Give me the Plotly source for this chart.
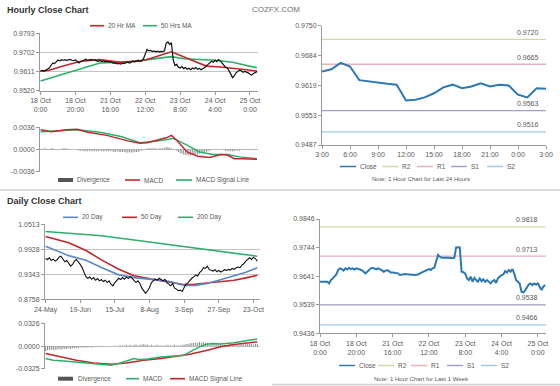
import plotly.graph_objects as go

# ---------------- DATA ----------------
hourly_tick_labels = ["18 Oct<br>0:00", "18 Oct<br>20:00", "21 Oct<br>16:00", "22 Oct<br>12:00",
                      "23 Oct<br>8:00", "24 Oct<br>4:00", "25 Oct<br>0:00"]
hourly_tick_pos = [0, 20, 40, 60, 80, 100, 120]

hourly_close = [
    0.9613, 0.9617, 0.9612, 0.9618, 0.9621, 0.9628, 0.9640, 0.9652, 0.9649, 0.9660,
    0.9666, 0.9662, 0.9667, 0.9665, 0.9668, 0.9664, 0.9666, 0.9669, 0.9665, 0.9663,
    0.9666, 0.9660, 0.9652, 0.9658, 0.9663, 0.9668, 0.9670, 0.9664, 0.9667, 0.9669,
    0.9665, 0.9668, 0.9662, 0.9660, 0.9664, 0.9658, 0.9661, 0.9657, 0.9660, 0.9656,
    0.9658, 0.9654, 0.9650, 0.9652, 0.9648, 0.9650, 0.9647, 0.9651, 0.9649, 0.9653,
    0.9656, 0.9652, 0.9658, 0.9660, 0.9657, 0.9662, 0.9665, 0.9660, 0.9663, 0.9672,
    0.9700, 0.9716, 0.9710, 0.9712, 0.9706, 0.9709, 0.9705, 0.9708, 0.9704, 0.9707,
    0.9706, 0.9710, 0.9745, 0.9752, 0.9740, 0.9748, 0.9668, 0.9640, 0.9645, 0.9632,
    0.9628, 0.9635, 0.9625, 0.9630, 0.9622, 0.9627, 0.9620, 0.9628, 0.9624, 0.9630,
    0.9622, 0.9626, 0.9620, 0.9624, 0.9630, 0.9638, 0.9645, 0.9652, 0.9660, 0.9655,
    0.9665, 0.9658, 0.9668, 0.9662, 0.9650, 0.9640, 0.9632, 0.9628, 0.9615, 0.9600,
    0.9582, 0.9590, 0.9605, 0.9612, 0.9618, 0.9615, 0.9608, 0.9612, 0.9610, 0.9605,
    0.9598, 0.9594, 0.9602, 0.9606, 0.9610]
hourly_ma20_idx = [0, 5, 12, 23, 34, 46, 57, 61, 75, 95, 103, 110, 118, 124]
hourly_ma20 = [0.9613, 0.9617, 0.9635, 0.9660, 0.9668, 0.9655, 0.9661, 0.9668, 0.9705,
               0.9637, 0.9633, 0.9628, 0.9620, 0.9613]
hourly_ma50_idx = [0, 34, 46, 57, 75, 82, 100, 110, 124]
hourly_ma50 = [0.9566, 0.9652, 0.9656, 0.9663, 0.9682, 0.9672, 0.9665, 0.9655, 0.9629]
hourly_price_ticks = [0.9520, 0.9611, 0.9702, 0.9793]

hourly_macd_idx = [0, 6, 15, 21, 27, 38, 50, 57, 61, 67, 72, 75, 78, 84, 90, 97, 103, 107, 111, 116, 124]
hourly_macd = [0.0032, 0.0029, 0.0032, 0.0033, 0.0028, 0.0023, 0.0014, 0.0010, 0.0011, 0.0016, 0.0019,
               0.0023, 0.0015, -0.0004, -0.0011, -0.0013, -0.0008, -0.0009, -0.0015, -0.0015, -0.0016]
hourly_signal_idx = [0, 11, 21, 34, 46, 57, 67, 76, 84, 91, 99, 107, 114, 124]
hourly_signal = [0.0029, 0.0031, 0.0032, 0.0028, 0.0021, 0.0011, 0.0014, 0.0018, 0.0007, -0.0004,
                 -0.0008, -0.0008, -0.0012, -0.0015]
hourly_divergence = [
    0.0001, 0.0001, 0.0002, 0.0002, 0.0001, 0.0001, 0.0002, 0.0002, 0.0001, 0.0001,
    0.0001, 0.0001, 0.0001, 0.0002, 0.0002, 0.0002, 0.0001, 0.0001, 0.0000, 0.0000,
    -0.0001, -0.0001, -0.0002, -0.0002, -0.0002, -0.0003, -0.0003, -0.0003, -0.0002, -0.0003,
    -0.0003, -0.0003, -0.0003, -0.0003, -0.0002, -0.0003, -0.0003, -0.0003, -0.0003, -0.0003,
    -0.0003, -0.0003, -0.0004, -0.0004, -0.0003, -0.0004, -0.0004, -0.0004, -0.0004, -0.0005,
    -0.0005, -0.0005, -0.0005, -0.0005, -0.0004, -0.0004, -0.0004, -0.0003, -0.0002, -0.0001,
    0.0001, 0.0002, 0.0002, 0.0002, 0.0002, 0.0002, 0.0002, 0.0001, 0.0002, 0.0002,
    0.0002, 0.0003, 0.0004, 0.0004, 0.0003, 0.0002, 0.0001, -0.0001, -0.0002, -0.0004,
    -0.0006, -0.0007, -0.0008, -0.0009, -0.0009, -0.0010, -0.0010, -0.0009, -0.0009, -0.0008,
    -0.0008, -0.0007, -0.0006, -0.0005, -0.0005, -0.0004, -0.0003, -0.0002, -0.0001, 0.0000,
    0.0001, 0.0001, 0.0001, 0.0000, 0.0000, -0.0001, -0.0002, -0.0003, -0.0003, -0.0003,
    -0.0003, -0.0003, -0.0002, -0.0002, -0.0002, -0.0001, -0.0001, -0.0001, -0.0001, -0.0001,
    -0.0001, -0.0001, -0.0001, -0.0001, -0.0001]
hourly_macd_ticks = [-0.0036, 0.0000, 0.0036]

daily_tick_labels = ["24-May", "19-Jun", "15-Jul", "8-Aug", "3-Sep", "27-Sep", "23-Oct"]
daily_tick_pos = [0, 18, 36, 54, 72, 90, 108]
daily_close = [
    0.9712, 0.9689, 0.9728, 0.9666, 0.9697, 0.9651, 0.9682, 0.9743, 0.9766, 0.9689,
    0.9635, 0.9666, 0.9589, 0.9535, 0.9574, 0.9651, 0.9689, 0.9635, 0.9574, 0.9497,
    0.9381, 0.9281, 0.9250, 0.9281, 0.9227, 0.9266, 0.9204, 0.9243, 0.9189, 0.9220,
    0.9173, 0.9204, 0.9150, 0.9189, 0.9112, 0.9073, 0.9150, 0.9204, 0.9250, 0.9220,
    0.9266, 0.9227, 0.9281, 0.9243, 0.9297, 0.9250, 0.9204, 0.9150, 0.9189, 0.9127,
    0.9019, 0.8942, 0.8896, 0.8958, 0.9035, 0.9150, 0.9204, 0.9235, 0.9204, 0.9250,
    0.9220, 0.9189, 0.9227, 0.9150, 0.9112, 0.9073, 0.9127, 0.9019, 0.8996, 0.8958,
    0.8973, 0.8942, 0.9035, 0.9112, 0.9150, 0.9204, 0.9250, 0.9281, 0.9327, 0.9304,
    0.9381, 0.9420, 0.9497, 0.9481, 0.9535, 0.9458, 0.9435, 0.9420, 0.9451, 0.9404,
    0.9435, 0.9397, 0.9420, 0.9451, 0.9435, 0.9458, 0.9443, 0.9481, 0.9458, 0.9497,
    0.9512, 0.9497, 0.9558, 0.9589, 0.9651, 0.9682, 0.9728, 0.9689, 0.9743, 0.9712,
    0.9651]
daily_ma20_idx = [0, 6, 12, 21, 29, 38, 47, 55, 64, 72, 78, 84, 90, 98, 104, 110]
daily_ma20 = [0.9997, 0.9880, 0.9780, 0.9670, 0.9500, 0.9330, 0.9260, 0.9225, 0.9180, 0.9080,
              0.9085, 0.9130, 0.9200, 0.9310, 0.9390, 0.9495]
daily_ma50_idx = [0, 12, 21, 29, 38, 46, 55, 64, 71, 76, 81, 90, 98, 104, 110]
daily_ma50 = [1.0228, 1.0080, 0.9900, 0.9680, 0.9460, 0.9310, 0.9230, 0.9160, 0.9110, 0.9105,
              0.9130, 0.9160, 0.9205, 0.9260, 0.9320]
daily_ma200_idx = [0, 15, 29, 45, 64, 81, 98, 110]
daily_ma200 = [1.0344, 1.0300, 1.0245, 1.0150, 1.0036, 0.9925, 0.9825, 0.9766]
daily_price_ticks = [0.8758, 0.9343, 0.9928, 1.0513]

daily_macd_idx = [0, 4, 11, 20, 28, 34, 39, 46, 49, 53, 60, 66, 72, 75, 80, 84, 87, 91, 98, 104, 110]
daily_macd = [-0.0177, -0.0201, -0.0216, -0.0240, -0.0259, -0.0273, -0.0240, -0.0177, -0.0192, -0.0182,
              -0.0153, -0.0144, -0.0129, -0.0081, -0.0010, 0.0029, 0.0038, 0.0030, 0.0048, 0.0077, 0.0101]
daily_signal_idx = [0, 8, 16, 25, 34, 42, 51, 60, 68, 75, 84, 91, 98, 104, 110]
daily_signal = [-0.0105, -0.0153, -0.0201, -0.0240, -0.0259, -0.0240, -0.0201, -0.0177, -0.0144,
                -0.0115, -0.0057, -0.0010, 0.0024, 0.0038, 0.0062]
daily_divergence = [
    -0.007, -0.006, -0.006, -0.005, -0.006, -0.005, -0.005, -0.004, -0.005, -0.004,
    -0.004, -0.004, -0.003, -0.004, -0.003, -0.003, -0.003, -0.003, -0.002, -0.002,
    -0.002, -0.002, -0.002, -0.001, -0.002, -0.001, -0.001, -0.001, -0.001, -0.001,
    -0.001, -0.001, 0.000, -0.001, 0.000, 0.000, 0.001, 0.000, 0.001, 0.001,
    0.001, 0.001, 0.002, 0.001, 0.002, 0.001, 0.002, 0.002, 0.001, 0.002,
    0.002, 0.003, 0.002, 0.002, 0.001, 0.002, 0.001, 0.001, 0.002, 0.001,
    0.001, 0.001, 0.001, 0.002, 0.001, 0.001, 0.001, 0.002, 0.001, 0.001,
    0.001, 0.002, 0.002, 0.003, 0.003, 0.004, 0.004, 0.005, 0.005, 0.005,
    0.006, 0.005, 0.006, 0.005, 0.005, 0.004, 0.004, 0.005, 0.004, 0.003,
    0.003, 0.003, 0.002, 0.002, 0.002, 0.002, 0.003, 0.002, 0.002, 0.002,
    0.002, 0.002, 0.003, 0.002, 0.003, 0.003, 0.003, 0.003, 0.002, 0.003,
    0.003]
daily_macd_ticks = [-0.03255, 0.0, 0.03255]
daily_macd_ticktext = ["-0.0325", "0.0000", "0.0326"]

day_tick_labels = ["3:00", "6:00", "9:00", "12:00", "15:00", "18:00", "21:00", "0:00", "3:00"]
day_tick_pos = [0, 3, 6, 9, 12, 15, 18, 21, 24]
day_close = [0.9649, 0.9654, 0.9668, 0.9660, 0.9630, 0.9627, 0.9625, 0.9622, 0.9620, 0.9585,
             0.9587, 0.9592, 0.9601, 0.9614, 0.9620, 0.9612, 0.9616, 0.9623, 0.9616, 0.9620,
             0.9618, 0.9598, 0.9592, 0.9612, 0.9611]
day_levels = [0.9720, 0.9665, 0.9563, 0.9516]
day_axis_ticks = [0.9487, 0.955275, 0.96185, 0.968425, 0.9750]
day_axis_ticktext = ["0.9487", "0.9553", "0.9619", "0.9684", "0.9750"]

week_close = [
    0.9621, 0.9621, 0.9623, 0.9621, 0.9621, 0.9615, 0.9627, 0.9633, 0.9642, 0.9647,
    0.9663, 0.9669, 0.9666, 0.9661, 0.9669, 0.9665, 0.9671, 0.9666, 0.9669, 0.9665,
    0.9669, 0.9666, 0.9665, 0.9663, 0.9657, 0.9651, 0.9657, 0.9663, 0.9669, 0.9671,
    0.9669, 0.9665, 0.9669, 0.9666, 0.9663, 0.9657, 0.9659, 0.9663, 0.9659, 0.9654,
    0.9654, 0.9653, 0.9654, 0.9651, 0.9645, 0.9647, 0.9648, 0.9649, 0.9648, 0.9647,
    0.9645, 0.9644, 0.9645, 0.9646, 0.9647, 0.9651, 0.9654, 0.9657, 0.9659, 0.9663,
    0.9666, 0.9663, 0.9669, 0.9671, 0.9693, 0.9717, 0.9711, 0.9707, 0.9707, 0.9708,
    0.9707, 0.9707, 0.9705, 0.9705, 0.9707, 0.9744, 0.9745, 0.9744, 0.9657, 0.9655,
    0.9650, 0.9633, 0.9627, 0.9639, 0.9621, 0.9635, 0.9627, 0.9621, 0.9633, 0.9623,
    0.9630, 0.9621, 0.9627, 0.9621, 0.9615, 0.9623, 0.9627, 0.9617, 0.9633, 0.9639,
    0.9645, 0.9647, 0.9659, 0.9654, 0.9663, 0.9657, 0.9666, 0.9650, 0.9627, 0.9621,
    0.9615, 0.9585, 0.9582, 0.9590, 0.9602, 0.9611, 0.9615, 0.9609, 0.9615, 0.9611,
    0.9615, 0.9603, 0.9591, 0.9603, 0.9609]
week_levels = [0.9818, 0.9713, 0.9538, 0.9466]
week_axis_ticks = [0.9436, 0.95385, 0.9641, 0.97435, 0.9846]
week_axis_ticktext = ["0.9436", "0.9539", "0.9641", "0.9744", "0.9846"]

level_names = ["R2", "R1", "S1", "S2"]

# ---------------- STYLE ----------------
W, H = 560, 386
FONT = "Liberation Sans, Arial, sans-serif"
TXT = "#595959"
GRID = "#c4c4c4"
AXL = "#9a9a9a"
RED = "#c0282d"
GREEN = "#2bb06a"
BLUE = "#5a8ac6"
CLOSE_BLUE = "#2c78b5"
DIV_GREY = "#8e8e8e"
LEVEL_COLORS = ["#d7d7a3", "#e6b1b9", "#a39dca", "#9ecbe0"]


def px(x):
    return x / W


def py(y):
    return 1 - y / H


fig = go.Figure()


def line(x, y, color, width, ax):
    fig.add_trace(go.Scatter(x=x, y=y, mode="lines", line=dict(color=color, width=width),
                             xaxis="x" + ax, yaxis="y" + ax, showlegend=False, hoverinfo="skip"))


def bars(x, y, ax):
    fig.add_trace(go.Bar(x=x, y=y, width=0.55, marker=dict(color=DIV_GREY, line=dict(width=0)),
                         xaxis="x" + ax, yaxis="y" + ax, showlegend=False, hoverinfo="skip"))


hours = list(range(len(hourly_close)))
days = list(range(len(daily_close)))

# panel 1: hourly price
line(hourly_ma50_idx, hourly_ma50, GREEN, 1.6, "")
line(hourly_ma20_idx, hourly_ma20, RED, 1.6, "")
line(hours, hourly_close, "#111111", 1.2, "")
# panel 2: hourly MACD
bars(hours, hourly_divergence, "2")
line(hourly_signal_idx, hourly_signal, GREEN, 1.5, "2")
line(hourly_macd_idx, hourly_macd, RED, 1.5, "2")
# panel 3: daily price
line(daily_ma200_idx, daily_ma200, GREEN, 1.6, "3")
line(daily_ma50_idx, daily_ma50, RED, 1.6, "3")
line(daily_ma20_idx, daily_ma20, BLUE, 1.6, "3")
line(days, daily_close, "#111111", 1.1, "3")
# panel 4: daily MACD
bars(days, daily_divergence, "4")
line(daily_signal_idx, daily_signal, RED, 1.5, "4")
line(daily_macd_idx, daily_macd, GREEN, 1.5, "4")
# panel 5: last 24 hours
hrs24 = list(range(len(day_close)))
for lv, c in zip(day_levels, LEVEL_COLORS):
    line([0, hrs24[-1]], [lv, lv], c, 1.3, "5")
line(hrs24, day_close, CLOSE_BLUE, 2.0, "5")
# panel 6: last week
hrs_w = list(range(len(week_close)))
for lv, c in zip(week_levels, LEVEL_COLORS):
    line([0, 124.5], [lv, lv], c, 1.3, "6")
line(hrs_w, week_close, CLOSE_BLUE, 2.0, "6")

tickfont = dict(family=FONT, size=7, color=TXT)


def yaxis(dom, rng, tv, tt, anchor, grid=True):
    return dict(domain=[py(dom[1]), py(dom[0])], range=rng, tickvals=tv, ticktext=tt,
                showgrid=grid, gridcolor=GRID, gridwidth=1, zeroline=False, automargin=False,
                showline=True, linecolor=AXL, linewidth=1, ticks="outside", ticklen=3,
                tickcolor=AXL, tickfont=tickfont, anchor=anchor, fixedrange=True)


def xaxis(dom, rng, tv, tt, anchor, labels=True, line_on=True):
    return dict(domain=[px(dom[0]), px(dom[1])], range=rng, tickvals=tv, ticktext=tt,
                showgrid=False, zeroline=False, showline=line_on, linecolor=AXL, linewidth=1,
                ticks="outside" if labels else "", ticklen=3, tickcolor=AXL, automargin=False,
                showticklabels=labels, tickfont=tickfont, anchor=anchor, fixedrange=True)


fmt = lambda v: f"{v:.4f}"

fig.update_layout(
    template="none",
    width=W, height=H, margin=dict(l=0, r=0, t=0, b=0, pad=0), autosize=False,
    paper_bgcolor="white", plot_bgcolor="white", barmode="overlay", hovermode=False,
    font=dict(family=FONT, color=TXT),
    xaxis=xaxis((40, 258), [-0.3, 124.6], hourly_tick_pos, hourly_tick_labels, "y"),
    yaxis=yaxis((33.3, 90.7), [0.9520, 0.97931], hourly_price_ticks,
                [fmt(v) for v in hourly_price_ticks], "x"),
    xaxis2=xaxis((40, 258), [-0.3, 124.6], hourly_tick_pos, hourly_tick_labels, "y2",
                 labels=False, line_on=False),
    yaxis2=yaxis((127.3, 171.7), [-0.00361, 0.00361], hourly_macd_ticks,
                 [fmt(v) for v in hourly_macd_ticks], "x2"),
    xaxis3=xaxis((45, 260), [-0.3, 111.4], daily_tick_pos, daily_tick_labels, "y3"),
    yaxis3=yaxis((224.3, 299.3), [0.8758, 1.05131], daily_price_ticks,
                 [fmt(v) for v in daily_price_ticks], "x3"),
    xaxis4=xaxis((45, 260), [-0.3, 111.4], daily_tick_pos, daily_tick_labels, "y4",
                 labels=False, line_on=False),
    yaxis4=yaxis((323.3, 369.0), [-0.03256, 0.03256], daily_macd_ticks, daily_macd_ticktext, "x4"),
    xaxis5=xaxis((322, 546), [0, 24], day_tick_pos, day_tick_labels, "y5"),
    yaxis5=yaxis((25.7, 145.0), [0.9487, 0.9750], day_axis_ticks, day_axis_ticktext, "x5", grid=False),
    xaxis6=xaxis((320, 546), [0, 124.5], hourly_tick_pos, hourly_tick_labels, "y6"),
    yaxis6=yaxis((219.0, 333.3), [0.9436, 0.9846], week_axis_ticks, week_axis_ticktext, "x6", grid=False),
)

annotations = []
shapes = []


def text(x, y, s, size=7, color=TXT, anchor="left", bold=False):
    annotations.append(dict(x=px(x), y=py(y), xref="paper", yref="paper", text=("<b>%s</b>" % s) if bold else s,
                            showarrow=False, xanchor=anchor, yanchor="middle",
                            font=dict(family=FONT, size=size, color=color)))


def swatch(x0, x1, y, color, width=1.6):
    shapes.append(dict(type="line", xref="paper", yref="paper", x0=px(x0), x1=px(x1), y0=py(y), y1=py(y),
                       line=dict(color=color, width=width)))


# level labels
for lv in day_levels:
    annotations.append(dict(x=24, y=lv, xref="x5", yref="y5", text=fmt(lv), showarrow=False,
                            xanchor="right", yanchor="middle", xshift=-5, yshift=7,
                            font=dict(family=FONT, size=7, color=TXT)))
for lv in week_levels:
    annotations.append(dict(x=124.5, y=lv, xref="x6", yref="y6", text=fmt(lv), showarrow=False,
                            xanchor="right", yanchor="middle", xshift=-6, yshift=7,
                            font=dict(family=FONT, size=7, color=TXT)))

# titles
text(5, 10, "Hourly Close Chart", size=9, color="#333333", bold=True)
text(5, 201, "Daily Close Chart", size=9, color="#333333", bold=True)
text(250, 10, "COZFX.COM", size=8, color="#707070")

# legends
swatch(90, 104, 25.7, RED); text(106, 25.7, "20 Hr MA", size=6.5)
swatch(143, 157, 25.7, GREEN); text(159, 25.7, "50 Hrs MA", size=6.5)

swatch(58, 73, 180, "#555555", 4); text(75, 180, "Divergence", size=6.5)
swatch(125, 140, 180, RED); text(142, 180, "MACD", size=6.5)
swatch(176, 192, 180, GREEN); text(194, 180, "MACD Signal Line", size=6.5)

swatch(63, 78, 217.3, BLUE); text(80, 217.3, "20 Day", size=6.5)
swatch(122, 137, 217.3, RED); text(139, 217.3, "50 Day", size=6.5)
swatch(178, 193, 217.3, GREEN); text(195, 217.3, "200 Day", size=6.5)

swatch(58, 73, 378.7, "#555555", 4); text(76, 378.7, "Divergence", size=6.5)
swatch(126, 139, 378.7, GREEN); text(141, 378.7, "MACD", size=6.5)
swatch(170, 185, 378.7, RED); text(187, 378.7, "MACD Signal Line", size=6.5)

for (ly, xs) in [(166.5, [340, 382, 417, 451, 487]), (365.5, [339, 378, 411, 447, 481])]:
    items = ["Close"] + level_names
    cols = [CLOSE_BLUE] + LEVEL_COLORS
    for nm, c, x0 in zip(items, cols, xs):
        swatch(x0, x0 + 16, ly, c, 1.5)
        text(x0 + 18, ly, nm, size=6.5)

text(421, 178.5, "Note: 1 Hour Chart for Last 24 Hours", size=6, anchor="center")
text(421, 379, "Note: 1 Hour Chart for Last 1 Week", size=6, anchor="center")

# separators
shapes.append(dict(type="line", xref="paper", yref="paper", x0=0, x1=1, y0=py(190), y1=py(190),
                   line=dict(color="#d0d0d0", width=1.5)))
shapes.append(dict(type="line", xref="paper", yref="paper", x0=px(272), x1=1, y0=py(384.5), y1=py(384.5),
                   line=dict(color="#d0d0d0", width=1.5)))

fig.update_layout(annotations=annotations, shapes=shapes)
fig.write_html("out.html", config={"displayModeBar": False, "staticPlot": True},
               post_script="document.body.style.margin='0';document.body.style.overflow='hidden';")
